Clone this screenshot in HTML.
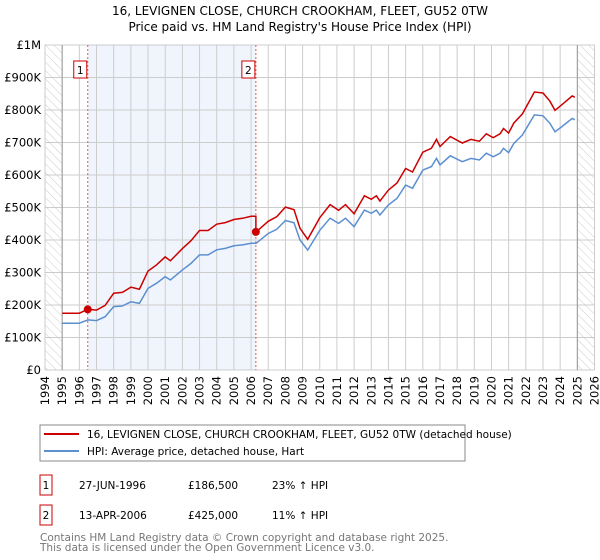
<!DOCTYPE html>
<html><head><meta charset="utf-8"><style>
body{margin:0;background:#fff;font-family:"DejaVu Sans","Liberation Sans",sans-serif;}
#wrap{position:relative;width:600px;height:560px;overflow:hidden}
</style></head><body>
<div id="wrap">
<svg id="c" width="600" height="560" style="position:absolute;left:0;top:0;font-family:'DejaVu Sans',sans-serif">
<defs><pattern id="hatch" width="6" height="6" patternUnits="userSpaceOnUse" patternTransform="rotate(-45)"><line x1="0" y1="0" x2="0" y2="6" stroke="#ccc" stroke-width="1"/></pattern></defs>
<text x="300" y="15" text-anchor="middle" font-size="12">16, LEVIGNEN CLOSE, CHURCH CROOKHAM, FLEET, GU52 0TW</text>
<text x="300" y="31" text-anchor="middle" font-size="12">Price paid vs. HM Land Registry's House Price Index (HPI)</text>
<g id="plot"></g>
<rect x="40" y="425" width="425" height="36" fill="#fff" stroke="#888"/>
<line x1="44" y1="434" x2="79" y2="434" stroke="#cc0000" stroke-width="2"/>
<text x="87" y="438" font-size="10.5">16, LEVIGNEN CLOSE, CHURCH CROOKHAM, FLEET, GU52 0TW (detached house)</text>
<line x1="44" y1="451" x2="79" y2="451" stroke="#5b8fd0" stroke-width="2"/>
<text x="87" y="455" font-size="10.5">HPI: Average price, detached house, Hart</text>
<g font-size="10.5">
<rect x="40" y="475" width="12" height="20" fill="#fff" stroke="#cc0000"/>
<text x="46" y="489" text-anchor="middle">1</text>
<text x="79" y="489">27-JUN-1996</text>
<text x="188" y="489">£186,500</text>
<text x="272" y="489">23% ↑ HPI</text>
<rect x="40" y="505" width="12" height="20" fill="#fff" stroke="#cc0000"/>
<text x="46" y="519" text-anchor="middle">2</text>
<text x="79" y="519">13-APR-2006</text>
<text x="188" y="519">£425,000</text>
<text x="272" y="519">11% ↑ HPI</text>
</g>
<text x="40" y="541" font-size="10.5" fill="#777">Contains HM Land Registry data © Crown copyright and database right 2025.</text>
<text x="40" y="551" font-size="10.5" fill="#777">This data is licensed under the Open Government Licence v3.0.</text>
</svg>
</div>
<script>
const hpiYears=[1995.0,1996.0,1996.5,1997.0,1997.5,1998.0,1998.5,1999.0,1999.5,2000.0,2000.5,2001.0,2001.3,2002.0,2002.5,2003.0,2003.5,2004.0,2004.5,2005.0,2005.5,2006.0,2006.3,2007.0,2007.5,2008.0,2008.5,2008.85,2009.3,2010.0,2010.6,2011.1,2011.5,2012.0,2012.6,2013.0,2013.3,2013.5,2014.0,2014.5,2015.0,2015.4,2016.0,2016.5,2016.8,2017.0,2017.6,2018.3,2018.8,2019.3,2019.7,2020.1,2020.5,2020.7,2021.0,2021.3,2021.8,2022.5,2023.0,2023.4,2023.7,2024.1,2024.7,2024.85];
const hpiValues=[144,144,154,152,164,195,197,210,205,251,267,287,277,308,328,354,354,370,374,382,385,390,390,420,433,460,453,400,369,430,467,451,467,441,492,482,492,477,508,528,569,559,615,626,651,631,659,641,651,646,667,656,667,682,669,697,723,785,782,759,733,749,774,770];
const saleYears=[1996.49,2006.28];
const salePrices=[186.5,425];
const yTicks=[0,100,200,300,400,500,600,700,800,900,1000];
const yTickLabels=["£0","£100K","£200K","£300K","£400K","£500K","£600K","£700K","£800K","£900K","£1M"];
const xTicks=[1994,1995,1996,1997,1998,1999,2000,2001,2002,2003,2004,2005,2006,2007,2008,2009,2010,2011,2012,2013,2014,2015,2016,2017,2018,2019,2020,2021,2022,2023,2024,2025,2026];

const X0=45,X1=594.5,Y0=370,Y1=45;
const xs=y=>X0+(y-1994)/32*(X1-X0);
const ys=v=>Y0-v/1000*(Y0-Y1);
const NS="http://www.w3.org/2000/svg";
const g=document.getElementById('plot');
function mk(t,a){const e=document.createElementNS(NS,t);for(const k in a)e.setAttribute(k,a[k]);g.appendChild(e);return e;}
function hpiAt(y){for(let i=0;i<hpiYears.length-1;i++){if(y<=hpiYears[i+1]){const t=(y-hpiYears[i])/(hpiYears[i+1]-hpiYears[i]);return hpiValues[i]+t*(hpiValues[i+1]-hpiValues[i]);}}return hpiValues[hpiValues.length-1];}

let e=mk('rect',{x:xs(saleYears[0]),y:Y1,width:xs(saleYears[1])-xs(saleYears[0]),height:Y0-Y1,fill:'#f0f5fd'});

e=mk('rect',{x:X0,y:Y1,width:xs(1995)-X0,height:Y0-Y1,fill:'url(#hatch)'});

e=mk('rect',{x:xs(2025),y:Y1,width:X1-xs(2025),height:Y0-Y1,fill:'url(#hatch)'});

yTicks.forEach((v,i)=>{
 e=mk('line',{x1:X0,x2:X1,y1:ys(v),y2:ys(v),stroke:'#ccc','stroke-width':1});
 
 e=mk('text',{x:X0-4,y:ys(v)+4,'text-anchor':'end','font-size':11.5});e.textContent=yTickLabels[i];
 
});
xTicks.forEach(y=>{
 e=mk('line',{x1:xs(y),x2:xs(y),y1:Y1,y2:Y0,stroke:'#ccc','stroke-width':1});
 
 e=mk('text',{x:0,y:0,'font-size':11.5,'text-anchor':'end',transform:`translate(${xs(y)+4},${Y0+6}) rotate(-90)`});e.textContent=y;
 
});
e=mk('line',{x1:xs(1995),x2:xs(1995),y1:Y1,y2:Y0,stroke:'#999'});
e=mk('line',{x1:xs(2025),x2:xs(2025),y1:Y1,y2:Y0,stroke:'#999'});
saleYears.forEach((y,i)=>{
 e=mk('line',{x1:xs(y),x2:xs(y),y1:Y1,y2:Y0,stroke:'#e55','stroke-dasharray':'2,2','stroke-width':1});
 
 e=mk('rect',{x:xs(y)-14,y:61,width:13,height:17,fill:'#fff',stroke:'#cc0000'});
 
 e=mk('text',{x:xs(y)-7.5,y:74,'text-anchor':'middle','font-size':10.5});e.textContent=String(i+1);
 
});
const bp=hpiYears.map((y,i)=>xs(y).toFixed(1)+','+ys(hpiValues[i]).toFixed(1)).join(' ');
e=mk('polyline',{points:bp,fill:'none',stroke:'#5b8fd0','stroke-width':1.5});

const r1=salePrices[0]/hpiAt(saleYears[0]),r2=salePrices[1]/hpiAt(saleYears[1]);
const rp=[];
hpiYears.forEach((y,i)=>{
 if(y<saleYears[1])rp.push([y,hpiValues[i]*r1]);
 if(i<hpiYears.length-1&&y<saleYears[1]&&hpiYears[i+1]>=saleYears[1]){rp.push([saleYears[1],hpiAt(saleYears[1])*r1]);rp.push([saleYears[1],salePrices[1]]);}
 if(y>=saleYears[1])rp.push([y,hpiValues[i]*r2]);
});
e=mk('polyline',{points:rp.map(p=>xs(p[0]).toFixed(1)+','+ys(p[1]).toFixed(1)).join(' '),fill:'none',stroke:'#cc0000','stroke-width':1.5});

saleYears.forEach((y,i)=>{
 e=mk('circle',{cx:xs(y),cy:ys(salePrices[i]),r:4,fill:'#cc0000'});
 
});
</script>
</body></html>
